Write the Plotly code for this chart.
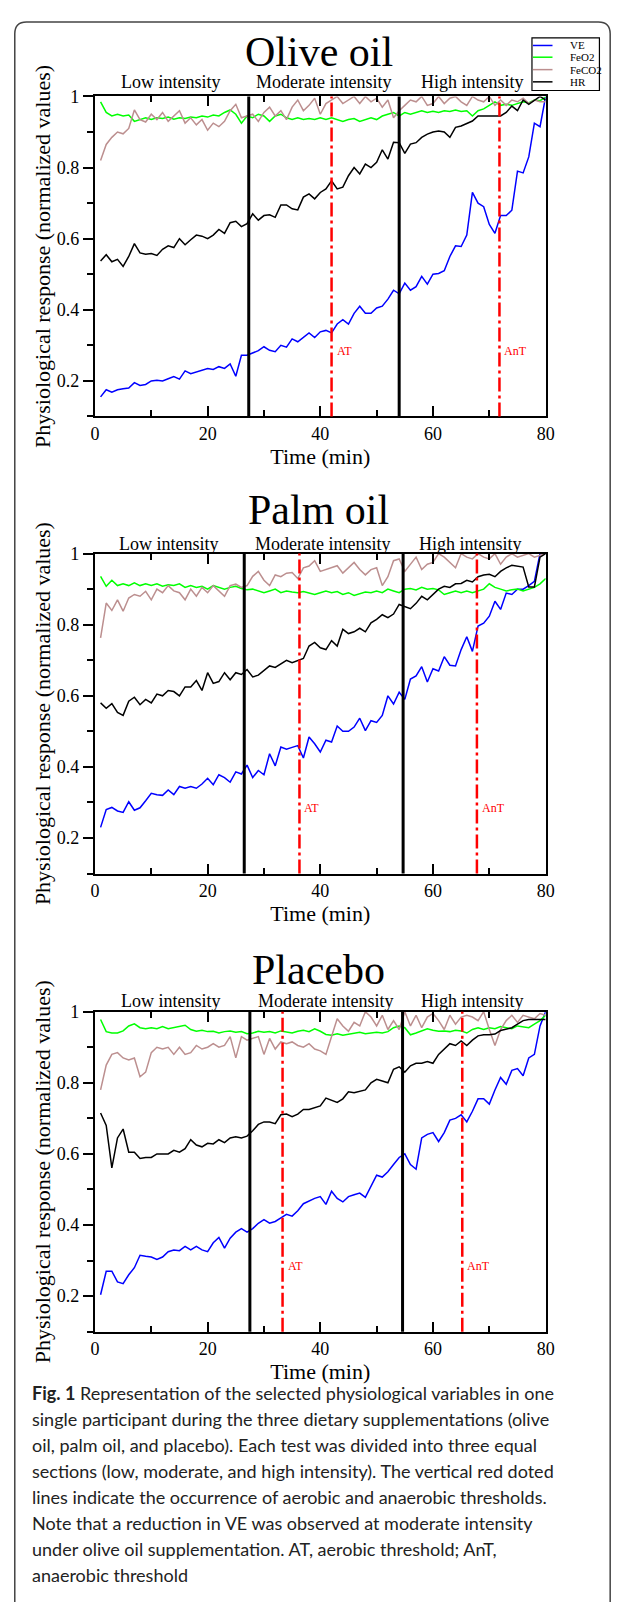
import plotly.graph_objects as go

# ---------------- data ----------------
time_min = list(range(1, 81))

olive_ve = [0.155, 0.175, 0.168, 0.175, 0.178, 0.18, 0.195, 0.187, 0.19, 0.2,
            0.202, 0.2, 0.206, 0.212, 0.205, 0.228, 0.22, 0.225, 0.23, 0.235,
            0.232, 0.24, 0.235, 0.248, 0.213, 0.272, 0.272, 0.278, 0.285, 0.296,
            0.286, 0.282, 0.3, 0.295, 0.318, 0.31, 0.322, 0.335, 0.322, 0.338,
            0.342, 0.335, 0.36, 0.372, 0.36, 0.39, 0.41, 0.39, 0.39, 0.405,
            0.41, 0.43, 0.455, 0.445, 0.475, 0.455, 0.465, 0.494, 0.472, 0.5,
            0.502, 0.51, 0.55, 0.58, 0.578, 0.61, 0.73, 0.70, 0.69, 0.64,
            0.615, 0.665, 0.665, 0.68, 0.79, 0.785, 0.83, 0.925, 0.915, 1.0]
olive_feo2 = [0.985, 0.955, 0.945, 0.95, 0.945, 0.948, 0.93, 0.935, 0.94, 0.935,
              0.94, 0.938, 0.942, 0.936, 0.94, 0.938, 0.942, 0.94, 0.945, 0.942,
              0.948, 0.945, 0.955, 0.962, 0.95, 0.925, 0.945, 0.94, 0.95, 0.945,
              0.93, 0.945, 0.95, 0.94, 0.935, 0.94, 0.935, 0.938, 0.935, 0.94,
              0.935, 0.94, 0.935, 0.93, 0.935, 0.938, 0.93, 0.935, 0.94, 0.935,
              0.945, 0.95, 0.955, 0.945, 0.955, 0.95, 0.955, 0.96, 0.955, 0.958,
              0.955, 0.96, 0.958, 0.962, 0.958, 0.96, 0.945, 0.96, 0.965, 0.975,
              0.985, 0.975, 0.978, 0.975, 0.98, 0.985, 0.982, 0.99, 0.988, 0.998]
olive_feco2 = [0.82, 0.865, 0.885, 0.9, 0.895, 0.91, 0.962, 0.935, 0.928, 0.95,
               0.935, 0.955, 0.93, 0.945, 0.96, 0.925, 0.94, 0.92, 0.935, 0.905,
               0.925, 0.915, 0.93, 0.96, 0.978, 0.94, 0.945, 0.95, 0.93, 0.955,
               0.97, 0.945, 0.96, 0.935, 0.97, 0.99, 0.96, 0.975, 0.995, 0.95,
               0.98, 0.99, 1.0, 0.98, 0.99, 1.0, 0.98, 1.0, 0.985, 0.995,
               0.97, 0.99, 0.94, 0.96, 0.975, 0.99, 0.985, 1.0, 0.975, 0.98,
               1.0, 0.98, 0.995, 1.0, 0.985, 0.975, 1.0, 0.99, 0.985, 1.0,
               0.975, 0.99, 0.975, 0.99, 0.985, 0.995, 0.98, 0.99, 0.985, 0.985]
olive_hr = [0.537, 0.555, 0.535, 0.542, 0.522, 0.55, 0.586, 0.56, 0.556, 0.558,
            0.553, 0.57, 0.58, 0.575, 0.6, 0.583, 0.597, 0.61, 0.607, 0.6,
            0.61, 0.626, 0.615, 0.645, 0.649, 0.634, 0.642, 0.67, 0.652, 0.665,
            0.667, 0.66, 0.695, 0.695, 0.684, 0.681, 0.717, 0.726, 0.712, 0.73,
            0.74, 0.763, 0.74, 0.745, 0.777, 0.8, 0.782, 0.81, 0.80, 0.815,
            0.85, 0.824, 0.871, 0.87, 0.84, 0.866, 0.87, 0.885, 0.894, 0.9,
            0.903, 0.9, 0.885, 0.913, 0.917, 0.925, 0.931, 0.945, 0.945, 0.945,
            0.945, 0.945, 0.955, 0.973, 0.96, 0.99, 0.978, 0.99, 1.0, 0.99]

palm_ve = [0.23, 0.28, 0.286, 0.276, 0.272, 0.302, 0.278, 0.285, 0.305, 0.326,
           0.322, 0.32, 0.335, 0.322, 0.345, 0.34, 0.345, 0.34, 0.352, 0.368,
           0.35, 0.378, 0.37, 0.357, 0.386, 0.38, 0.405, 0.37, 0.39, 0.378,
           0.437, 0.403, 0.456, 0.45, 0.455, 0.46, 0.425, 0.484, 0.465, 0.442,
           0.475, 0.47, 0.515, 0.5, 0.5, 0.512, 0.537, 0.502, 0.53, 0.525,
           0.545, 0.6, 0.577, 0.61, 0.59, 0.647, 0.656, 0.682, 0.639, 0.676,
           0.67, 0.71, 0.686, 0.684, 0.73, 0.766, 0.725, 0.796, 0.804, 0.824,
           0.866, 0.843, 0.889, 0.885, 0.9, 0.9, 0.91, 0.922, 1.0, 1.0]
palm_feo2 = [0.936, 0.908, 0.925, 0.91, 0.915, 0.91, 0.918, 0.91, 0.915, 0.91,
             0.915, 0.908, 0.912, 0.91, 0.915, 0.905, 0.91, 0.905, 0.908, 0.9,
             0.91, 0.905, 0.9, 0.905, 0.908, 0.902, 0.898, 0.9, 0.895, 0.89,
             0.895, 0.9, 0.89, 0.895, 0.892, 0.89, 0.893, 0.89, 0.885, 0.89,
             0.895, 0.89, 0.893, 0.885, 0.89, 0.882, 0.888, 0.892, 0.89, 0.895,
             0.89, 0.9, 0.895, 0.89, 0.9, 0.902, 0.898, 0.905, 0.9, 0.902,
             0.898, 0.885, 0.89, 0.895, 0.89, 0.895, 0.89, 0.895, 0.9, 0.915,
             0.905, 0.9, 0.895, 0.898, 0.9, 0.895, 0.9, 0.905, 0.915, 0.93]
palm_feco2 = [0.763, 0.861, 0.84, 0.87, 0.838, 0.875, 0.885, 0.88, 0.894, 0.87,
              0.9, 0.89, 0.91, 0.895, 0.89, 0.87, 0.9, 0.88, 0.905, 0.89,
              0.91, 0.895, 0.88, 0.91, 0.914, 0.905, 0.91, 0.936, 0.95, 0.925,
              0.91, 0.94, 0.935, 0.945, 0.947, 0.93, 0.96, 0.965, 0.98, 0.95,
              0.955, 0.96, 0.966, 0.945, 0.96, 0.975, 0.955, 0.94, 0.955, 0.96,
              0.91, 0.935, 0.98, 0.985, 0.95, 0.97, 0.99, 0.955, 0.97, 0.975,
              1.0, 0.99, 0.975, 0.96, 1.0, 0.99, 0.985, 1.0, 0.99, 0.985,
              1.0, 0.97, 0.99, 1.0, 0.99, 0.995, 1.0, 0.99, 0.995, 1.0]
palm_hr = [0.58, 0.565, 0.578, 0.553, 0.545, 0.585, 0.596, 0.575, 0.59, 0.58,
           0.605, 0.6, 0.615, 0.612, 0.6, 0.625, 0.625, 0.643, 0.615, 0.665,
           0.635, 0.64, 0.665, 0.645, 0.665, 0.66, 0.674, 0.653, 0.658, 0.67,
           0.684, 0.68, 0.69, 0.7, 0.693, 0.7, 0.705, 0.74, 0.75, 0.735,
           0.73, 0.755, 0.74, 0.787, 0.775, 0.78, 0.79, 0.78, 0.805, 0.815,
           0.828, 0.82, 0.83, 0.857, 0.85, 0.845, 0.86, 0.88, 0.87, 0.885,
           0.9, 0.908, 0.905, 0.915, 0.916, 0.925, 0.92, 0.935, 0.94, 0.942,
           0.935, 0.95, 0.96, 0.967, 0.965, 0.962, 0.906, 0.906, 0.99, 1.0]

placebo_ve = [0.204, 0.27, 0.27, 0.24, 0.235, 0.26, 0.28, 0.315, 0.312, 0.31,
              0.303, 0.31, 0.325, 0.33, 0.328, 0.34, 0.33, 0.34, 0.33, 0.325,
              0.35, 0.365, 0.335, 0.363, 0.38, 0.39, 0.38, 0.39, 0.405, 0.415,
              0.405, 0.41, 0.42, 0.43, 0.425, 0.44, 0.46, 0.468, 0.475, 0.48,
              0.458, 0.495, 0.475, 0.465, 0.48, 0.485, 0.49, 0.478, 0.51, 0.54,
              0.535, 0.55, 0.57, 0.59, 0.6, 0.57, 0.557, 0.645, 0.655, 0.66,
              0.635, 0.66, 0.695, 0.7, 0.71, 0.69, 0.72, 0.755, 0.755, 0.74,
              0.78, 0.815, 0.796, 0.835, 0.84, 0.82, 0.87, 0.88, 0.96, 1.0]
placebo_feo2 = [0.978, 0.944, 0.94, 0.94, 0.946, 0.96, 0.966, 0.955, 0.952, 0.955,
                0.952, 0.958, 0.952, 0.955, 0.958, 0.962, 0.95, 0.945, 0.948, 0.944,
                0.945, 0.94, 0.944, 0.946, 0.942, 0.944, 0.938, 0.94, 0.945, 0.942,
                0.944, 0.94, 0.946, 0.944, 0.94, 0.945, 0.948, 0.944, 0.952, 0.945,
                0.936, 0.934, 0.938, 0.934, 0.936, 0.94, 0.942, 0.938, 0.94, 0.942,
                0.94, 0.944, 0.955, 0.96, 0.955, 0.935, 0.94, 0.945, 0.952, 0.948,
                0.945, 0.946, 0.944, 0.948, 0.946, 0.94, 0.95, 0.955, 0.95, 0.955,
                0.952, 0.958, 0.955, 0.952, 0.96, 0.958, 0.955, 0.965, 0.975, 0.99]
placebo_feco2 = [0.78, 0.85, 0.88, 0.885, 0.87, 0.864, 0.87, 0.817, 0.83, 0.885,
                 0.9, 0.895, 0.9, 0.88, 0.9, 0.88, 0.885, 0.905, 0.895, 0.9,
                 0.91, 0.9, 0.905, 0.93, 0.87, 0.93, 0.92, 0.925, 0.93, 0.88,
                 0.925, 0.895, 0.915, 0.91, 0.915, 0.905, 0.9, 0.91, 0.895, 0.89,
                 0.88, 0.93, 0.98, 0.96, 0.945, 0.97, 0.96, 1.0, 0.985, 0.96,
                 0.99, 0.95, 0.975, 0.95, 1.0, 0.96, 0.99, 0.955, 0.985, 0.995,
                 0.975, 0.95, 0.99, 0.965, 0.985, 0.99, 0.985, 0.975, 1.0, 0.95,
                 0.905, 0.95, 0.975, 0.99, 0.97, 0.99, 0.985, 0.98, 0.995, 0.99]
placebo_hr = [0.715, 0.68, 0.561, 0.645, 0.67, 0.605, 0.605, 0.587, 0.59, 0.59,
              0.6, 0.6, 0.6, 0.61, 0.605, 0.615, 0.64, 0.625, 0.62, 0.63,
              0.628, 0.64, 0.632, 0.645, 0.648, 0.645, 0.65, 0.665, 0.683, 0.69,
              0.69, 0.685, 0.71, 0.712, 0.705, 0.712, 0.725, 0.725, 0.73, 0.735,
              0.757, 0.75, 0.745, 0.755, 0.775, 0.772, 0.775, 0.78, 0.8, 0.81,
              0.805, 0.8, 0.838, 0.845, 0.83, 0.848, 0.855, 0.855, 0.86, 0.855,
              0.88, 0.895, 0.91, 0.905, 0.918, 0.905, 0.92, 0.932, 0.935, 0.935,
              0.937, 0.947, 0.95, 0.955, 0.965, 0.975, 0.978, 0.978, 0.978, 0.978]

series_names = ["VE", "FeO2", "FeCO2", "HR"]
panel_titles = ["Olive oil", "Palm oil", "Placebo"]
section_labels = ["Low intensity", "Moderate intensity", "High intensity"]
section_centers = [[13.5, 40.6, 67.0], [13.2, 40.4, 66.6], [13.5, 41.0, 67.0]]
section_bounds = [[27.3, 54.0], [26.5, 54.7], [27.5, 54.6]]
aerobic_threshold = [42.0, 36.3, 33.3]
anaerobic_threshold = [71.8, 67.8, 65.2]
threshold_labels = ["AT", "AnT"]
x_ticks = [0, 20, 40, 60, 80]
y_ticks = [0.2, 0.4, 0.6, 0.8, 1.0]
y_tick_text = ["0.2", "0.4", "0.6", "0.8", "1"]

panel_series = [
    [olive_ve, olive_feo2, olive_feco2, olive_hr],
    [palm_ve, palm_feo2, palm_feco2, palm_hr],
    [placebo_ve, placebo_feo2, placebo_feco2, placebo_hr],
]

caption_lines = [
    "<b>Fig. 1</b> Representation of the selected physiological variables in one",
    "single participant during the three dietary supplementations (olive",
    "oil, palm oil, and placebo). Each test was divided into three equal",
    "sections (low, moderate, and high intensity). The vertical red doted",
    "lines indicate the occurrence of aerobic and anaerobic thresholds.",
    "Note that a reduction in VE was observed at moderate intensity",
    "under olive oil supplementation. AT, aerobic threshold; AnT,",
    "anaerobic threshold",
]

# ---------------- styling / layout ----------------
series_colors = ["#0000ff", "#00ff00", "#bc8f8f", "#000000"]
SERIF = "Liberation Serif"
SANS = "Lato"

W, H = 627, 1602


def fx(X):
    return X / W


def fy(Y):
    return 1 - Y / H


plot_left, plot_right = 92, 553
panel_tops = [87, 547, 1008]
panel_bottoms = [409, 869, 1330]
title_ys = [42, 503, 966]
section_label_ys = [72.5, 537, 997.5]

fig = go.Figure()
shapes = []
annotations = []
layout_axes = {}

for p in range(3):
    i = p + 1
    xa = "x" if i == 1 else f"x{i}"
    ya = "y" if i == 1 else f"y{i}"
    for s in range(4):
        fig.add_trace(go.Scatter(
            x=time_min, y=panel_series[p][s], mode="lines",
            name=series_names[s], showlegend=False,
            line=dict(color=series_colors[s], width=1.5),
            xaxis=xa, yaxis=ya, hoverinfo="x+y+name"))

    xdom = [fx(plot_left), fx(plot_right)]
    ydom = [fy(panel_bottoms[p]), fy(panel_tops[p])]
    layout_axes[f"xaxis{'' if i == 1 else i}"] = dict(
        domain=xdom, anchor=ya, range=[0, 80], tickmode="array", tickvals=x_ticks,
        ticks="inside", ticklen=10, tickwidth=1.5, tickcolor="black",
        minor=dict(tickmode="linear", tick0=0, dtick=10, ticks="inside", ticklen=6,
                   tickwidth=1.5, tickcolor="black"),
        showline=True, linecolor="black", linewidth=2, mirror="ticks",
        showgrid=False, zeroline=False,
        tickfont=dict(family=SERIF, size=18, color="black"),
        title=dict(text="Time (min)", font=dict(family=SERIF, size=22, color="black"),
                   standoff=0))
    layout_axes[f"yaxis{'' if i == 1 else i}"] = dict(
        domain=ydom, anchor=xa, range=[0.1, 1.0], tickmode="array", tickvals=y_ticks,
        ticktext=y_tick_text,
        ticks="outside", ticklen=10, tickwidth=1.5, tickcolor="black",
        minor=dict(tickmode="linear", tick0=0.1, dtick=0.2, ticks="outside", ticklen=6,
                   tickwidth=1.5, tickcolor="black"),
        showline=True, linecolor="black", linewidth=2, mirror=True,
        showgrid=False, zeroline=False,
        tickfont=dict(family=SERIF, size=18, color="black"),
        title=dict(text="Physiological response (normalized values)",
                   font=dict(family=SERIF, size=22, color="black"), standoff=0))
    # right-side inward ticks
    layout_axes[f"yaxis{i + 3}"] = dict(
        overlaying=ya, anchor=xa, side="right", range=[0.1, 1.0],
        tickmode="array", tickvals=y_ticks, showticklabels=False,
        ticks="inside", ticklen=9, tickwidth=1.5, tickcolor="black",
        minor=dict(tickmode="linear", tick0=0.1, dtick=0.2, ticks="inside", ticklen=6,
                   tickwidth=1.5, tickcolor="black"),
        showline=False, showgrid=False, zeroline=False)

    # section boundaries (black) and thresholds (red dash-dot)
    for b in section_bounds[p]:
        shapes.append(dict(type="line", xref=xa, yref=f"{ya} domain", x0=b, x1=b,
                           y0=0, y1=1, line=dict(color="black", width=3), layer="above"))
    for k, thr in enumerate([aerobic_threshold[p], anaerobic_threshold[p]]):
        shapes.append(dict(type="line", xref=xa, yref=f"{ya} domain", x0=thr, x1=thr,
                           y0=0, y1=1, line=dict(color="#ff0000", width=2.5,
                                                 dash="14px,4px,3px,4px"),
                           layer="above"))
        annotations.append(dict(x=thr, y=0.285, xref=xa, yref=ya, text=threshold_labels[k],
                                showarrow=False, xanchor="left", yanchor="middle", xshift=3,
                                font=dict(family=SERIF, size=12, color="#ff0000")))

    annotations.append(dict(x=fx(321), y=fy(title_ys[p]), xref="paper", yref="paper",
                            text=panel_titles[p], showarrow=False, xanchor="center",
                            yanchor="middle",
                            font=dict(family=SERIF, size=42, color="black")))
    for k in range(3):
        annotations.append(dict(x=section_centers[p][k], y=fy(section_label_ys[p]),
                                xref=xa, yref="paper", text=section_labels[k],
                                showarrow=False, xanchor="center", yanchor="middle",
                                font=dict(family=SERIF, size=18, color="black")))

# manual compact legend (olive oil panel, top right)
shapes.append(dict(type="rect", xref="paper", yref="paper", x0=fx(539), x1=fx(608),
                   y0=fy(81), y1=fy(28), line=dict(color="black", width=1.2),
                   fillcolor="white", layer="above"))
legend_ys = [35.7, 47.5, 60, 72.3]
for s in range(4):
    shapes.append(dict(type="line", xref="paper", yref="paper", x0=fx(540), x1=fx(560),
                       y0=fy(legend_ys[s]), y1=fy(legend_ys[s]),
                       line=dict(color=series_colors[s], width=1.5), layer="above"))
    annotations.append(dict(x=fx(576), y=fy(legend_ys[s]), xref="paper", yref="paper",
                            text=series_names[s], showarrow=False, xanchor="left",
                            yanchor="middle", font=dict(family=SERIF, size=11, color="black")))

# outer rounded frame (bottom edge runs past the page, as in the reference)
x0, x1, y_top, y_bot = fx(10), fx(619), fy(12), fy(1625)
rx, ry = 12 / W, 12 / H
frame = (f"M {x0 + rx},{y_top} L {x1 - rx},{y_top} Q {x1},{y_top} {x1},{y_top - ry} "
         f"L {x1},{y_bot + ry} Q {x1},{y_bot} {x1 - rx},{y_bot} L {x0 + rx},{y_bot} "
         f"Q {x0},{y_bot} {x0},{y_bot + ry} L {x0},{y_top - ry} Q {x0},{y_top} {x0 + rx},{y_top} Z")
shapes.append(dict(type="path", xref="paper", yref="paper", path=frame,
                   line=dict(color="#444444", width=1.5), layer="below"))

# caption
caption_ys = [1392, 1418, 1444, 1470, 1496.5, 1522.5, 1549, 1575]
for k, line in enumerate(caption_lines):
    annotations.append(dict(x=fx(26), y=fy(caption_ys[k]), xref="paper", yref="paper",
                            text=line, showarrow=False, xanchor="left", yanchor="middle",
                            font=dict(family=SANS, size=18, color="#222222")))

fig.update_layout(
    width=W, height=H, margin=dict(l=0, r=0, t=0, b=0), autosize=False,
    paper_bgcolor="white", plot_bgcolor="white", showlegend=False,
    shapes=shapes, annotations=annotations, **layout_axes)

fig.write_html("out.html", config={"displayModeBar": False},
               post_script="document.body.style.margin='0';"
                           "document.documentElement.style.overflow='hidden';")
